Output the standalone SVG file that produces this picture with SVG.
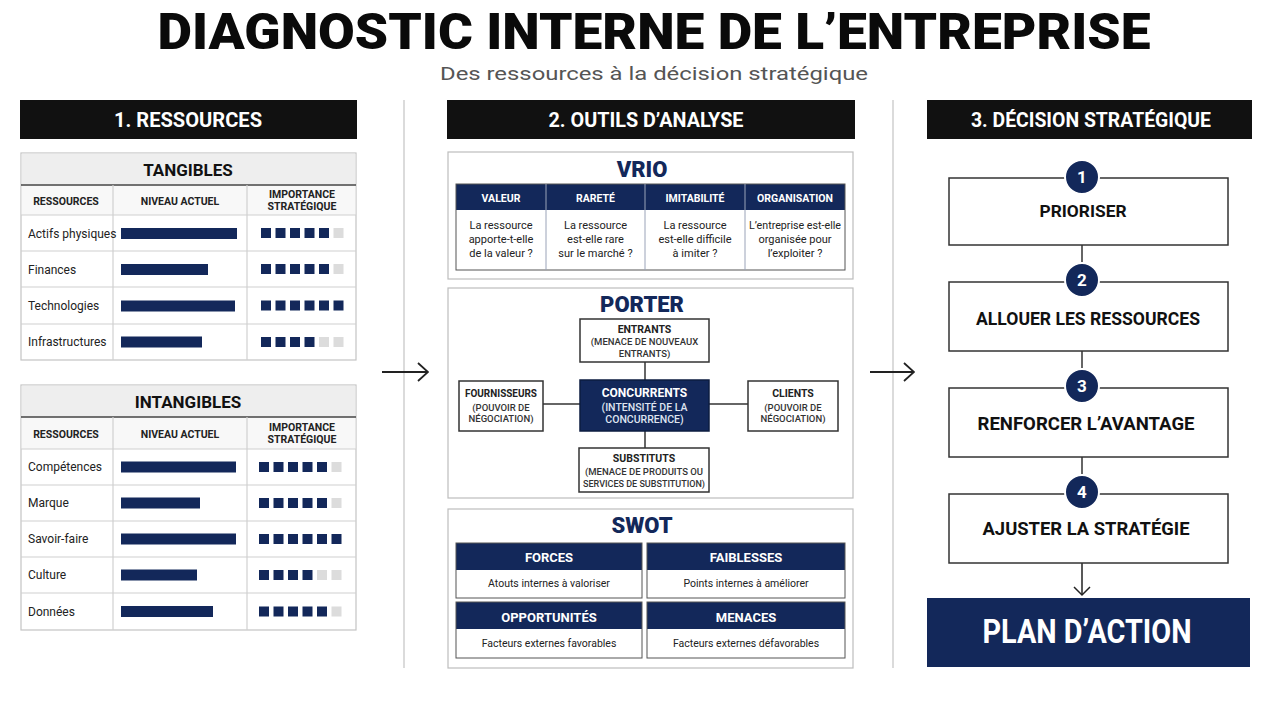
<svg xmlns="http://www.w3.org/2000/svg" xmlns:xlink="http://www.w3.org/1999/xlink" width="1280" height="702" viewBox="0 0 1280 702">
<defs>
<style>
text{font-family:Roboto,"Liberation Sans",sans-serif}
.title{font-size:50px;font-weight:900;fill:#0a0a0a;text-anchor:middle}
.sub{font-size:18px;fill:#555;text-anchor:middle}
.colbar{fill:#111}
.colT{font-size:20px;font-weight:700;fill:#fff;text-anchor:middle}
.div{stroke:#cfcfcf;stroke-width:1.5}
.tbl{fill:#fff;stroke:#c4c4c4;stroke-width:1.2}
.thead{fill:#eeeeee}
.thline{stroke:#444;stroke-width:1.5}
.rowl{stroke:#d0d0d0;stroke-width:1.2}
.tT{font-size:17px;font-weight:700;fill:#111;text-anchor:middle}
.ch{font-size:10.5px;font-weight:700;fill:#222;text-anchor:middle}
.rl{font-size:12px;fill:#222}
.bar{fill:#13285a}
.on{fill:#13285a}
.off{fill:#dcdcdc}
.panel{fill:#fff;stroke:#bdbdbd;stroke-width:1.2}
.pT{font-size:22px;font-weight:900;fill:#13285a;text-anchor:middle}
.navy{fill:#13285a}
.grid{fill:none;stroke:#555;stroke-width:1}
.vh{font-size:10.5px;font-weight:700;fill:#fff;text-anchor:middle}
.vb{font-size:11px;fill:#222;text-anchor:middle}
.node{fill:#fff;stroke:#333;stroke-width:1.5}
.nodeN{fill:#13285a;stroke:#0d1c40;stroke-width:1.5}
.nt{font-size:10.5px;font-weight:700;fill:#222;text-anchor:middle}
.ns{font-size:9.5px;font-weight:500;fill:#333;text-anchor:middle}
.ntw{font-size:12px;font-weight:700;fill:#fff;text-anchor:middle}
.nsw{font-size:10.5px;font-weight:500;fill:#dfe4f0;text-anchor:middle}
.sh{font-size:13px;font-weight:700;fill:#fff;text-anchor:middle}
.sb{font-size:10.5px;fill:#222;text-anchor:middle}
.conn{stroke:#333;stroke-width:1.5;fill:none}
.step{fill:#fff;stroke:#333;stroke-width:1.5}
.stT{font-size:18px;font-weight:700;fill:#111;text-anchor:middle}
.circ{fill:#13285a;stroke:#fff;stroke-width:2}
.num{font-size:17px;font-weight:700;fill:#fff;text-anchor:middle}
.plan{font-size:34px;font-weight:700;fill:#fff;text-anchor:middle}
</style>
<rect id="sq" width="10" height="10"/>
<marker id="chev" viewBox="0 0 12 20" refX="11" refY="10" markerWidth="12" markerHeight="20" markerUnits="userSpaceOnUse" orient="auto">
<path d="M1,1 L11,10 L1,19" fill="none" stroke="#222" stroke-width="1.8"/>
</marker>
</defs>
<rect width="1280" height="702" fill="#fff"/>

<g id="header">
<text class="title" x="654" y="49" textLength="993" lengthAdjust="spacingAndGlyphs">DIAGNOSTIC INTERNE DE L’ENTREPRISE</text>
<text class="sub" x="654" y="80" textLength="428" lengthAdjust="spacingAndGlyphs">Des ressources à la décision stratégique</text>
</g>

<g id="col1-header">
<rect class="colbar" x="20" y="100" width="337" height="39"/>
<text class="colT" x="188" y="127" textLength="148" lengthAdjust="spacingAndGlyphs">1. RESSOURCES</text>
</g>
<g id="col2-header">
<rect class="colbar" x="447" y="100" width="408" height="39"/>
<text class="colT" x="646" y="127" textLength="195" lengthAdjust="spacingAndGlyphs">2. OUTILS D’ANALYSE</text>
</g>
<g id="col3-header">
<rect class="colbar" x="927" y="100" width="325" height="39"/>
<text class="colT" x="1091" y="127" textLength="240" lengthAdjust="spacingAndGlyphs">3. DÉCISION STRATÉGIQUE</text>
</g>

<g id="dividers">
<line class="div" x1="404" y1="100" x2="404" y2="668"/>
<line class="div" x1="893" y1="100" x2="893" y2="668"/>
</g>

<g id="tangibles">
<rect class="tbl" x="21" y="153" width="335" height="207"/>
<rect class="thead" x="21.6" y="153.6" width="333.8" height="31"/>
<rect x="21.6" y="185" width="333.8" height="30" fill="#f8f8f8"/>
<line class="thline" x1="21" y1="185" x2="356" y2="185"/>
<text class="tT" x="188" y="176">TANGIBLES</text>
<line class="rowl" x1="113" y1="185" x2="113" y2="360"/>
<line class="rowl" x1="247" y1="185" x2="247" y2="360"/>
<line class="rowl" x1="21" y1="215" x2="356" y2="215"/>
<line class="rowl" x1="21" y1="251" x2="356" y2="251"/>
<line class="rowl" x1="21" y1="287" x2="356" y2="287"/>
<line class="rowl" x1="21" y1="324" x2="356" y2="324"/>
<text class="ch" x="66" y="205">RESSOURCES</text>
<text class="ch" x="180" y="205">NIVEAU ACTUEL</text>
<text class="ch" x="302" y="198">IMPORTANCE</text>
<text class="ch" x="302" y="210">STRATÉGIQUE</text>

<text class="rl" x="28" y="238">Actifs physiques</text>
<rect class="bar" x="121" y="228" width="116" height="11"/>
<use xlink:href="#sq" class="on" x="261" y="228"/><use xlink:href="#sq" class="on" x="275.5" y="228"/><use xlink:href="#sq" class="on" x="290" y="228"/><use xlink:href="#sq" class="on" x="304.5" y="228"/><use xlink:href="#sq" class="on" x="319" y="228"/><use xlink:href="#sq" class="off" x="333.5" y="228"/>

<text class="rl" x="28" y="274">Finances</text>
<rect class="bar" x="121" y="264" width="87" height="11"/>
<use xlink:href="#sq" class="on" x="261" y="264"/><use xlink:href="#sq" class="on" x="275.5" y="264"/><use xlink:href="#sq" class="on" x="290" y="264"/><use xlink:href="#sq" class="on" x="304.5" y="264"/><use xlink:href="#sq" class="on" x="319" y="264"/><use xlink:href="#sq" class="off" x="333.5" y="264"/>

<text class="rl" x="28" y="310">Technologies</text>
<rect class="bar" x="121" y="300.5" width="114" height="11"/>
<use xlink:href="#sq" class="on" x="261" y="300.5"/><use xlink:href="#sq" class="on" x="275.5" y="300.5"/><use xlink:href="#sq" class="on" x="290" y="300.5"/><use xlink:href="#sq" class="on" x="304.5" y="300.5"/><use xlink:href="#sq" class="on" x="319" y="300.5"/><use xlink:href="#sq" class="on" x="333.5" y="300.5"/>

<text class="rl" x="28" y="346">Infrastructures</text>
<rect class="bar" x="121" y="336.5" width="81" height="11"/>
<use xlink:href="#sq" class="on" x="261" y="337"/><use xlink:href="#sq" class="on" x="275.5" y="337"/><use xlink:href="#sq" class="on" x="290" y="337"/><use xlink:href="#sq" class="on" x="304.5" y="337"/><use xlink:href="#sq" class="off" x="319" y="337"/><use xlink:href="#sq" class="off" x="333.5" y="337"/>
</g>

<g id="intangibles">
<rect class="tbl" x="21" y="385" width="335" height="245"/>
<rect class="thead" x="21.6" y="385.6" width="333.8" height="31.5"/>
<rect x="21.6" y="417" width="333.8" height="32" fill="#f8f8f8"/>
<line class="thline" x1="21" y1="417" x2="356" y2="417"/>
<text class="tT" x="188" y="408">INTANGIBLES</text>
<line class="rowl" x1="113" y1="417" x2="113" y2="630"/>
<line class="rowl" x1="247" y1="417" x2="247" y2="630"/>
<line class="rowl" x1="21" y1="449" x2="356" y2="449"/>
<line class="rowl" x1="21" y1="485" x2="356" y2="485"/>
<line class="rowl" x1="21" y1="521" x2="356" y2="521"/>
<line class="rowl" x1="21" y1="557" x2="356" y2="557"/>
<line class="rowl" x1="21" y1="593" x2="356" y2="593"/>
<text class="ch" x="66" y="438">RESSOURCES</text>
<text class="ch" x="180" y="438">NIVEAU ACTUEL</text>
<text class="ch" x="302" y="431">IMPORTANCE</text>
<text class="ch" x="302" y="443">STRATÉGIQUE</text>

<text class="rl" x="28" y="471">Compétences</text>
<rect class="bar" x="121" y="461.5" width="115" height="11"/>
<use xlink:href="#sq" class="on" x="259" y="462"/><use xlink:href="#sq" class="on" x="273.5" y="462"/><use xlink:href="#sq" class="on" x="288" y="462"/><use xlink:href="#sq" class="on" x="302.5" y="462"/><use xlink:href="#sq" class="on" x="317" y="462"/><use xlink:href="#sq" class="off" x="331.5" y="462"/>

<text class="rl" x="28" y="507">Marque</text>
<rect class="bar" x="121" y="497.5" width="79" height="11"/>
<use xlink:href="#sq" class="on" x="259" y="498"/><use xlink:href="#sq" class="on" x="273.5" y="498"/><use xlink:href="#sq" class="on" x="288" y="498"/><use xlink:href="#sq" class="on" x="302.5" y="498"/><use xlink:href="#sq" class="on" x="317" y="498"/><use xlink:href="#sq" class="off" x="331.5" y="498"/>

<text class="rl" x="28" y="543">Savoir-faire</text>
<rect class="bar" x="121" y="533.5" width="115" height="11"/>
<use xlink:href="#sq" class="on" x="259" y="534"/><use xlink:href="#sq" class="on" x="273.5" y="534"/><use xlink:href="#sq" class="on" x="288" y="534"/><use xlink:href="#sq" class="on" x="302.5" y="534"/><use xlink:href="#sq" class="on" x="317" y="534"/><use xlink:href="#sq" class="on" x="331.5" y="534"/>

<text class="rl" x="28" y="579">Culture</text>
<rect class="bar" x="121" y="569.5" width="76" height="11"/>
<use xlink:href="#sq" class="on" x="259" y="570"/><use xlink:href="#sq" class="on" x="273.5" y="570"/><use xlink:href="#sq" class="on" x="288" y="570"/><use xlink:href="#sq" class="on" x="302.5" y="570"/><use xlink:href="#sq" class="off" x="317" y="570"/><use xlink:href="#sq" class="off" x="331.5" y="570"/>

<text class="rl" x="28" y="616">Données</text>
<rect class="bar" x="121" y="606" width="92" height="11"/>
<use xlink:href="#sq" class="on" x="259" y="606.5"/><use xlink:href="#sq" class="on" x="273.5" y="606.5"/><use xlink:href="#sq" class="on" x="288" y="606.5"/><use xlink:href="#sq" class="on" x="302.5" y="606.5"/><use xlink:href="#sq" class="on" x="317" y="606.5"/><use xlink:href="#sq" class="off" x="331.5" y="606.5"/>
</g>

<g id="vrio">
<rect class="panel" x="448" y="152" width="405" height="127"/>
<text class="pT" x="642" y="177">VRIO</text>
<rect class="navy" x="456" y="184" width="389" height="26"/>
<rect class="grid" x="456" y="184" width="389" height="86"/>
<line x1="546" y1="184" x2="546" y2="270" stroke="#9aa3b8" stroke-width="1"/>
<line x1="645" y1="184" x2="645" y2="270" stroke="#9aa3b8" stroke-width="1"/>
<line x1="745" y1="184" x2="745" y2="270" stroke="#9aa3b8" stroke-width="1"/>
<text class="vh" x="501" y="202">VALEUR</text>
<text class="vh" x="595.5" y="202">RARETÉ</text>
<text class="vh" x="695" y="202">IMITABILITÉ</text>
<text class="vh" x="795" y="202">ORGANISATION</text>
<text class="vb" x="501" y="229">La ressource</text>
<text class="vb" x="501" y="243">apporte-t-elle</text>
<text class="vb" x="501" y="257">de la valeur ?</text>
<text class="vb" x="595.5" y="229">La ressource</text>
<text class="vb" x="595.5" y="243">est-elle rare</text>
<text class="vb" x="595.5" y="257">sur le marché ?</text>
<text class="vb" x="695" y="229">La ressource</text>
<text class="vb" x="695" y="243">est-elle difficile</text>
<text class="vb" x="695" y="257">à imiter ?</text>
<text class="vb" x="795" y="229" textLength="92" lengthAdjust="spacingAndGlyphs">L’entreprise est-elle</text>
<text class="vb" x="795" y="243">organisée pour</text>
<text class="vb" x="795" y="257">l’exploiter ?</text>
</g>

<g id="porter-panel">
<rect class="panel" x="448" y="288" width="405" height="210"/>
<text class="pT" x="642" y="312">PORTER</text>
</g>

<g id="connectors">
<line class="conn" x1="645" y1="362" x2="645" y2="380"/>
<line class="conn" x1="645" y1="431" x2="645" y2="448"/>
<line class="conn" x1="543" y1="404" x2="580" y2="404"/>
<line class="conn" x1="709" y1="404" x2="748" y2="404"/>
<line x1="382" y1="372" x2="428" y2="372" stroke="#222" stroke-width="1.8" marker-end="url(#chev)"/>
<line x1="870" y1="372" x2="914" y2="372" stroke="#222" stroke-width="1.8" marker-end="url(#chev)"/>
<line class="conn" x1="1082" y1="245" x2="1082" y2="266"/>
<line class="conn" x1="1082" y1="351" x2="1082" y2="372"/>
<line class="conn" x1="1082" y1="457" x2="1082" y2="478"/>
<path d="M1082,563 L1082,594" stroke="#222" stroke-width="1.5" fill="none"/>
<path d="M1074,587 L1082,595 L1090,587" stroke="#222" stroke-width="1.5" fill="none"/>
</g>

<g id="entrants">
<rect class="node" x="580" y="319" width="129" height="43"/>
<text class="nt" x="644.5" y="333">ENTRANTS</text>
<text class="ns" x="644.5" y="345">(MENACE DE NOUVEAUX</text>
<text class="ns" x="644.5" y="357">ENTRANTS)</text>
</g>
<g id="concurrents">
<rect class="nodeN" x="580" y="380" width="129" height="51"/>
<text class="ntw" x="644.5" y="397">CONCURRENTS</text>
<text class="nsw" x="644.5" y="411">(INTENSITÉ DE LA</text>
<text class="nsw" x="644.5" y="423">CONCURRENCE)</text>
</g>
<g id="fournisseurs">
<rect class="node" x="459" y="381" width="84" height="50"/>
<text class="nt" x="501" y="397" textLength="72" lengthAdjust="spacingAndGlyphs">FOURNISSEURS</text>
<text class="ns" x="501" y="411">(POUVOIR DE</text>
<text class="ns" x="501" y="422">NÉGOCIATION)</text>
</g>
<g id="clients">
<rect class="node" x="748" y="381" width="90" height="50"/>
<text class="nt" x="793" y="397">CLIENTS</text>
<text class="ns" x="793" y="411">(POUVOIR DE</text>
<text class="ns" x="793" y="422">NÉGOCIATION)</text>
</g>
<g id="substituts">
<rect class="node" x="579" y="448" width="130" height="44"/>
<text class="nt" x="644" y="462">SUBSTITUTS</text>
<text class="ns" x="644" y="475">(MENACE DE PRODUITS OU</text>
<text class="ns" x="644" y="487" textLength="122" lengthAdjust="spacingAndGlyphs">SERVICES DE SUBSTITUTION)</text>
</g>

<g id="swot">
<rect class="panel" x="448" y="509" width="405" height="159"/>
<text class="pT" x="642" y="533">SWOT</text>
<rect class="navy" x="456" y="543" width="186" height="27"/>
<rect class="grid" x="456" y="543" width="186" height="55"/>
<text class="sh" x="549" y="562">FORCES</text>
<text class="sb" x="549" y="587">Atouts internes à valoriser</text>
<rect class="navy" x="647" y="543" width="198" height="27"/>
<rect class="grid" x="647" y="543" width="198" height="55"/>
<text class="sh" x="746" y="562">FAIBLESSES</text>
<text class="sb" x="746" y="587">Points internes à améliorer</text>
<rect class="navy" x="456" y="602" width="186" height="27"/>
<rect class="grid" x="456" y="602" width="186" height="56"/>
<text class="sh" x="549" y="622">OPPORTUNITÉS</text>
<text class="sb" x="549" y="647">Facteurs externes favorables</text>
<rect class="navy" x="647" y="602" width="198" height="27"/>
<rect class="grid" x="647" y="602" width="198" height="56"/>
<text class="sh" x="746" y="622">MENACES</text>
<text class="sb" x="746" y="647">Facteurs externes défavorables</text>
</g>

<g id="step1">
<rect class="step" x="949" y="178" width="279" height="67"/>
<circle class="circ" cx="1082" cy="177" r="17"/>
<text class="num" x="1082" y="183">1</text>
<text class="stT" x="1083" y="217" textLength="87" lengthAdjust="spacingAndGlyphs" style="font-size:16px">PRIORISER</text>
</g>
<g id="step2">
<rect class="step" x="949" y="282" width="279" height="69"/>
<circle class="circ" cx="1082" cy="280" r="17"/>
<text class="num" x="1082" y="286">2</text>
<text class="stT" x="1088" y="325" textLength="224" lengthAdjust="spacingAndGlyphs">ALLOUER LES RESSOURCES</text>
</g>
<g id="step3">
<rect class="step" x="949" y="388" width="279" height="69"/>
<circle class="circ" cx="1082" cy="386" r="17"/>
<text class="num" x="1082" y="392">3</text>
<text class="stT" x="1086" y="430" textLength="217" lengthAdjust="spacingAndGlyphs">RENFORCER L’AVANTAGE</text>
</g>
<g id="step4">
<rect class="step" x="949" y="494" width="279" height="69"/>
<circle class="circ" cx="1082" cy="492" r="17"/>
<text class="num" x="1082" y="498">4</text>
<text class="stT" x="1086" y="535" textLength="207" lengthAdjust="spacingAndGlyphs">AJUSTER LA STRATÉGIE</text>
</g>
<g id="plan">
<rect class="navy" x="927" y="598" width="323" height="69"/>
<text class="plan" x="1087" y="643" textLength="209" lengthAdjust="spacingAndGlyphs">PLAN D’ACTION</text>
</g>
</svg>
